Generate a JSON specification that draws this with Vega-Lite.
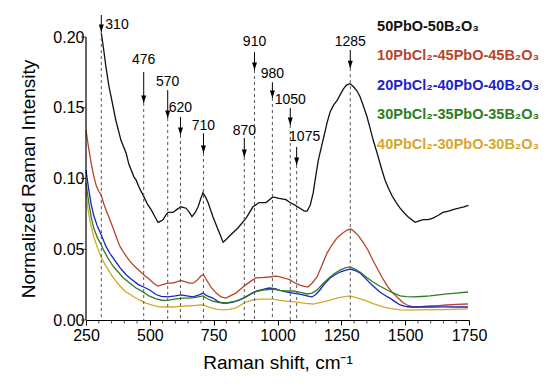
{
  "$schema": "https://vega.github.io/schema/vega-lite/v6.json",
  "width": 383,
  "height": 283,
  "autosize": {"type": "none"},
  "padding": {"left": 86, "top": 37, "right": 81, "bottom": 64},
  "background": "white",
  "config": {
    "view": {"stroke": null},
    "font": "Liberation Sans",
    "axis": {"domainColor": "#000", "tickColor": "#000", "labelColor": "#000", "titleColor": "#000", "labelFont": "Liberation Sans", "titleFont": "Liberation Sans", "grid": false}
  },
  "datasets": {
    "spectra": [
      {"s":"A","x":310,"y":0.203},{"s":"A","x":320,"y":0.19},{"s":"A","x":328,"y":0.179},{"s":"A","x":340,"y":0.165},{"s":"A","x":348,"y":0.158},{"s":"A","x":367,"y":0.141},{"s":"A","x":387,"y":0.127},{"s":"A","x":407,"y":0.118},{"s":"A","x":418,"y":0.11},{"s":"A","x":438,"y":0.101},{"s":"A","x":446,"y":0.099},{"s":"A","x":460,"y":0.093},{"s":"A","x":477,"y":0.087},{"s":"A","x":490,"y":0.082},{"s":"A","x":505,"y":0.078},{"s":"A","x":520,"y":0.073},{"s":"A","x":532,"y":0.069},{"s":"A","x":545,"y":0.07},{"s":"A","x":552,"y":0.071},{"s":"A","x":562,"y":0.074},{"s":"A","x":571,"y":0.076},{"s":"A","x":591,"y":0.076},{"s":"A","x":605,"y":0.078},{"s":"A","x":622,"y":0.08},{"s":"A","x":642,"y":0.079},{"s":"A","x":655,"y":0.076},{"s":"A","x":665,"y":0.073},{"s":"A","x":678,"y":0.076},{"s":"A","x":689,"y":0.08},{"s":"A","x":700,"y":0.086},{"s":"A","x":708,"y":0.09},{"s":"A","x":718,"y":0.087},{"s":"A","x":728,"y":0.083},{"s":"A","x":747,"y":0.073},{"s":"A","x":767,"y":0.064},{"s":"A","x":787,"y":0.055},{"s":"A","x":800,"y":0.057},{"s":"A","x":810,"y":0.059},{"s":"A","x":845,"y":0.065},{"s":"A","x":877,"y":0.072},{"s":"A","x":904,"y":0.08},{"s":"A","x":928,"y":0.083},{"s":"A","x":955,"y":0.083},{"s":"A","x":982,"y":0.087},{"s":"A","x":1006,"y":0.086},{"s":"A","x":1033,"y":0.085},{"s":"A","x":1049,"y":0.083},{"s":"A","x":1070,"y":0.081},{"s":"A","x":1088,"y":0.079},{"s":"A","x":1105,"y":0.077},{"s":"A","x":1116,"y":0.077},{"s":"A","x":1128,"y":0.081},{"s":"A","x":1140,"y":0.09},{"s":"A","x":1150,"y":0.102},{"s":"A","x":1160,"y":0.113},{"s":"A","x":1178,"y":0.127},{"s":"A","x":1195,"y":0.14},{"s":"A","x":1206,"y":0.147},{"s":"A","x":1220,"y":0.152},{"s":"A","x":1233,"y":0.155},{"s":"A","x":1257,"y":0.163},{"s":"A","x":1270,"y":0.166},{"s":"A","x":1284,"y":0.167},{"s":"A","x":1297,"y":0.165},{"s":"A","x":1311,"y":0.162},{"s":"A","x":1323,"y":0.158},{"s":"A","x":1335,"y":0.152},{"s":"A","x":1350,"y":0.144},{"s":"A","x":1362,"y":0.136},{"s":"A","x":1375,"y":0.127},{"s":"A","x":1390,"y":0.118},{"s":"A","x":1409,"y":0.106},{"s":"A","x":1421,"y":0.099},{"s":"A","x":1435,"y":0.093},{"s":"A","x":1448,"y":0.088},{"s":"A","x":1465,"y":0.083},{"s":"A","x":1480,"y":0.079},{"s":"A","x":1495,"y":0.076},{"s":"A","x":1511,"y":0.073},{"s":"A","x":1525,"y":0.071},{"s":"A","x":1539,"y":0.069},{"s":"A","x":1555,"y":0.07},{"s":"A","x":1570,"y":0.071},{"s":"A","x":1590,"y":0.071},{"s":"A","x":1609,"y":0.072},{"s":"A","x":1630,"y":0.074},{"s":"A","x":1648,"y":0.076},{"s":"A","x":1670,"y":0.077},{"s":"A","x":1687,"y":0.078},{"s":"A","x":1710,"y":0.079},{"s":"A","x":1730,"y":0.08},{"s":"A","x":1748,"y":0.081},

      {"s":"B","x":250,"y":0.134},{"s":"B","x":260,"y":0.122},{"s":"B","x":270,"y":0.111},{"s":"B","x":280,"y":0.102},{"s":"B","x":290,"y":0.095},{"s":"B","x":300,"y":0.091},{"s":"B","x":310,"y":0.088},{"s":"B","x":320,"y":0.082},{"s":"B","x":330,"y":0.077},{"s":"B","x":344,"y":0.0707},{"s":"B","x":356,"y":0.065},{"s":"B","x":370,"y":0.058},{"s":"B","x":383,"y":0.052},{"s":"B","x":400,"y":0.047},{"s":"B","x":420,"y":0.042},{"s":"B","x":440,"y":0.038},{"s":"B","x":458,"y":0.035},{"s":"B","x":476,"y":0.032},{"s":"B","x":497,"y":0.029},{"s":"B","x":515,"y":0.026},{"s":"B","x":532,"y":0.024},{"s":"B","x":550,"y":0.025},{"s":"B","x":571,"y":0.026},{"s":"B","x":590,"y":0.026},{"s":"B","x":605,"y":0.027},{"s":"B","x":622,"y":0.028},{"s":"B","x":640,"y":0.027},{"s":"B","x":655,"y":0.026},{"s":"B","x":669,"y":0.026},{"s":"B","x":685,"y":0.028},{"s":"B","x":700,"y":0.031},{"s":"B","x":710,"y":0.032},{"s":"B","x":720,"y":0.029},{"s":"B","x":740,"y":0.023},{"s":"B","x":760,"y":0.019},{"s":"B","x":779,"y":0.0163},{"s":"B","x":798,"y":0.0155},{"s":"B","x":815,"y":0.017},{"s":"B","x":837,"y":0.019},{"s":"B","x":857,"y":0.022},{"s":"B","x":877,"y":0.025},{"s":"B","x":900,"y":0.028},{"s":"B","x":916,"y":0.0297},{"s":"B","x":940,"y":0.03},{"s":"B","x":967,"y":0.0304},{"s":"B","x":994,"y":0.031},{"s":"B","x":1010,"y":0.0304},{"s":"B","x":1030,"y":0.0295},{"s":"B","x":1049,"y":0.0283},{"s":"B","x":1070,"y":0.026},{"s":"B","x":1088,"y":0.0247},{"s":"B","x":1105,"y":0.0238},{"s":"B","x":1119,"y":0.0233},{"s":"B","x":1135,"y":0.026},{"s":"B","x":1155,"y":0.0304},{"s":"B","x":1175,"y":0.039},{"s":"B","x":1194,"y":0.0473},{"s":"B","x":1213,"y":0.053},{"s":"B","x":1233,"y":0.058},{"s":"B","x":1252,"y":0.061},{"s":"B","x":1272,"y":0.0636},{"s":"B","x":1288,"y":0.0643},{"s":"B","x":1300,"y":0.0625},{"s":"B","x":1315,"y":0.06},{"s":"B","x":1335,"y":0.055},{"s":"B","x":1354,"y":0.0495},{"s":"B","x":1374,"y":0.042},{"s":"B","x":1394,"y":0.0353},{"s":"B","x":1413,"y":0.029},{"s":"B","x":1433,"y":0.0233},{"s":"B","x":1452,"y":0.019},{"s":"B","x":1472,"y":0.0155},{"s":"B","x":1490,"y":0.0125},{"s":"B","x":1507,"y":0.0106},{"s":"B","x":1531,"y":0.0092},{"s":"B","x":1560,"y":0.0095},{"s":"B","x":1597,"y":0.0099},{"s":"B","x":1630,"y":0.0102},{"s":"B","x":1664,"y":0.0106},{"s":"B","x":1700,"y":0.011},{"s":"B","x":1746,"y":0.0113},

      {"s":"C","x":250,"y":0.106},{"s":"C","x":260,"y":0.093},{"s":"C","x":270,"y":0.082},{"s":"C","x":280,"y":0.074},{"s":"C","x":295,"y":0.066},{"s":"C","x":310,"y":0.06},{"s":"C","x":328,"y":0.052},{"s":"C","x":344,"y":0.047},{"s":"C","x":367,"y":0.041},{"s":"C","x":383,"y":0.037},{"s":"C","x":407,"y":0.032},{"s":"C","x":434,"y":0.028},{"s":"C","x":455,"y":0.025},{"s":"C","x":476,"y":0.0233},{"s":"C","x":501,"y":0.021},{"s":"C","x":524,"y":0.018},{"s":"C","x":545,"y":0.0167},{"s":"C","x":571,"y":0.0163},{"s":"C","x":600,"y":0.017},{"s":"C","x":622,"y":0.0177},{"s":"C","x":645,"y":0.017},{"s":"C","x":669,"y":0.0163},{"s":"C","x":690,"y":0.0175},{"s":"C","x":708,"y":0.019},{"s":"C","x":725,"y":0.017},{"s":"C","x":747,"y":0.0155},{"s":"C","x":767,"y":0.013},{"s":"C","x":787,"y":0.012},{"s":"C","x":805,"y":0.012},{"s":"C","x":826,"y":0.0127},{"s":"C","x":850,"y":0.014},{"s":"C","x":877,"y":0.0163},{"s":"C","x":900,"y":0.019},{"s":"C","x":916,"y":0.0205},{"s":"C","x":940,"y":0.0215},{"s":"C","x":967,"y":0.0226},{"s":"C","x":990,"y":0.0222},{"s":"C","x":1010,"y":0.021},{"s":"C","x":1033,"y":0.0198},{"s":"C","x":1061,"y":0.019},{"s":"C","x":1080,"y":0.0185},{"s":"C","x":1100,"y":0.0177},{"s":"C","x":1120,"y":0.0168},{"s":"C","x":1135,"y":0.0163},{"s":"C","x":1150,"y":0.018},{"s":"C","x":1166,"y":0.0212},{"s":"C","x":1186,"y":0.026},{"s":"C","x":1206,"y":0.0297},{"s":"C","x":1225,"y":0.032},{"s":"C","x":1245,"y":0.0339},{"s":"C","x":1265,"y":0.035},{"s":"C","x":1284,"y":0.036},{"s":"C","x":1303,"y":0.035},{"s":"C","x":1323,"y":0.0332},{"s":"C","x":1342,"y":0.03},{"s":"C","x":1362,"y":0.0261},{"s":"C","x":1381,"y":0.023},{"s":"C","x":1401,"y":0.0198},{"s":"C","x":1420,"y":0.0175},{"s":"C","x":1440,"y":0.0155},{"s":"C","x":1460,"y":0.013},{"s":"C","x":1480,"y":0.0106},{"s":"C","x":1500,"y":0.0097},{"s":"C","x":1519,"y":0.0092},{"s":"C","x":1560,"y":0.0092},{"s":"C","x":1600,"y":0.0092},{"s":"C","x":1650,"y":0.0093},{"s":"C","x":1700,"y":0.0092},{"s":"C","x":1746,"y":0.0092},

      {"s":"D","x":250,"y":0.097},{"s":"D","x":260,"y":0.084},{"s":"D","x":270,"y":0.073},{"s":"D","x":280,"y":0.065},{"s":"D","x":295,"y":0.058},{"s":"D","x":310,"y":0.053},{"s":"D","x":320,"y":0.049},{"s":"D","x":332,"y":0.045},{"s":"D","x":356,"y":0.038},{"s":"D","x":371,"y":0.035},{"s":"D","x":395,"y":0.03},{"s":"D","x":422,"y":0.026},{"s":"D","x":446,"y":0.0226},{"s":"D","x":476,"y":0.0195},{"s":"D","x":497,"y":0.017},{"s":"D","x":525,"y":0.015},{"s":"D","x":552,"y":0.0138},{"s":"D","x":575,"y":0.014},{"s":"D","x":602,"y":0.015},{"s":"D","x":630,"y":0.0155},{"s":"D","x":653,"y":0.0155},{"s":"D","x":680,"y":0.016},{"s":"D","x":708,"y":0.017},{"s":"D","x":725,"y":0.015},{"s":"D","x":747,"y":0.0134},{"s":"D","x":767,"y":0.0125},{"s":"D","x":787,"y":0.012},{"s":"D","x":810,"y":0.0125},{"s":"D","x":837,"y":0.0134},{"s":"D","x":860,"y":0.015},{"s":"D","x":888,"y":0.0177},{"s":"D","x":916,"y":0.02},{"s":"D","x":943,"y":0.0212},{"s":"D","x":982,"y":0.0219},{"s":"D","x":1010,"y":0.021},{"s":"D","x":1033,"y":0.0205},{"s":"D","x":1061,"y":0.0205},{"s":"D","x":1090,"y":0.0195},{"s":"D","x":1116,"y":0.0184},{"s":"D","x":1135,"y":0.019},{"s":"D","x":1155,"y":0.0212},{"s":"D","x":1180,"y":0.026},{"s":"D","x":1206,"y":0.0304},{"s":"D","x":1225,"y":0.033},{"s":"D","x":1245,"y":0.0353},{"s":"D","x":1265,"y":0.0368},{"s":"D","x":1284,"y":0.0375},{"s":"D","x":1303,"y":0.036},{"s":"D","x":1323,"y":0.0339},{"s":"D","x":1350,"y":0.03},{"s":"D","x":1374,"y":0.0269},{"s":"D","x":1400,"y":0.024},{"s":"D","x":1429,"y":0.0212},{"s":"D","x":1455,"y":0.019},{"s":"D","x":1480,"y":0.017},{"s":"D","x":1505,"y":0.0165},{"s":"D","x":1531,"y":0.0163},{"s":"D","x":1565,"y":0.0166},{"s":"D","x":1597,"y":0.017},{"s":"D","x":1630,"y":0.0177},{"s":"D","x":1664,"y":0.0184},{"s":"D","x":1700,"y":0.019},{"s":"D","x":1746,"y":0.0198},

      {"s":"E","x":250,"y":0.091},{"s":"E","x":258,"y":0.078},{"s":"E","x":268,"y":0.068},{"s":"E","x":280,"y":0.059},{"s":"E","x":295,"y":0.051},{"s":"E","x":310,"y":0.044},{"s":"E","x":325,"y":0.039},{"s":"E","x":344,"y":0.0335},{"s":"E","x":360,"y":0.029},{"s":"E","x":383,"y":0.024},{"s":"E","x":405,"y":0.02},{"s":"E","x":434,"y":0.0168},{"s":"E","x":460,"y":0.014},{"s":"E","x":485,"y":0.012},{"s":"E","x":510,"y":0.0105},{"s":"E","x":536,"y":0.0093},{"s":"E","x":567,"y":0.0092},{"s":"E","x":591,"y":0.0092},{"s":"E","x":620,"y":0.0096},{"s":"E","x":642,"y":0.0099},{"s":"E","x":670,"y":0.0102},{"s":"E","x":700,"y":0.0106},{"s":"E","x":712,"y":0.0105},{"s":"E","x":725,"y":0.0095},{"s":"E","x":740,"y":0.0085},{"s":"E","x":765,"y":0.0075},{"s":"E","x":787,"y":0.0071},{"s":"E","x":810,"y":0.0075},{"s":"E","x":837,"y":0.0085},{"s":"E","x":860,"y":0.011},{"s":"E","x":877,"y":0.0127},{"s":"E","x":900,"y":0.014},{"s":"E","x":928,"y":0.0148},{"s":"E","x":955,"y":0.0148},{"s":"E","x":982,"y":0.0148},{"s":"E","x":1010,"y":0.0138},{"s":"E","x":1033,"y":0.0134},{"s":"E","x":1076,"y":0.0127},{"s":"E","x":1110,"y":0.0118},{"s":"E","x":1139,"y":0.0113},{"s":"E","x":1170,"y":0.0125},{"s":"E","x":1206,"y":0.0141},{"s":"E","x":1245,"y":0.016},{"s":"E","x":1284,"y":0.017},{"s":"E","x":1315,"y":0.0155},{"s":"E","x":1350,"y":0.0134},{"s":"E","x":1380,"y":0.0112},{"s":"E","x":1413,"y":0.0092},{"s":"E","x":1445,"y":0.008},{"s":"E","x":1480,"y":0.0071},{"s":"E","x":1520,"y":0.007},{"s":"E","x":1558,"y":0.0071},{"s":"E","x":1650,"y":0.0074},{"s":"E","x":1746,"y":0.0078}
    ],
    "peaks": [
      {"pos":310,"label":"310","ly":0.2085,"top":0.2155,"tip":0.2035},
      {"pos":476,"label":"476","ly":0.1837,"top":0.1753,"tip":0.1534},
      {"pos":570,"label":"570","ly":0.168,"top":0.1625,"tip":0.1428},
      {"pos":620,"label":"620","ly":0.1498,"top":0.1435,"tip":0.1307},
      {"pos":710,"label":"710","ly":0.137,"top":0.132,"tip":0.118},
      {"pos":870,"label":"870","ly":0.1336,"top":0.1286,"tip":0.1152},
      {"pos":910,"label":"910","ly":0.1965,"top":0.1894,"tip":0.1767},
      {"pos":980,"label":"980","ly":0.1739,"top":0.168,"tip":0.1569},
      {"pos":1050,"label":"1050","ly":0.1555,"top":0.1498,"tip":0.1378},
      {"pos":1075,"label":"1075","ly":0.1293,"top":0.1223,"tip":0.1095},
      {"pos":1285,"label":"1285","ly":0.1965,"top":0.1908,"tip":0.178}
    ],
    "minor": [
      {"t":300},{"t":350},{"t":400},{"t":450},{"t":550},{"t":600},{"t":650},{"t":700},{"t":800},{"t":850},{"t":900},{"t":950},{"t":1050},{"t":1100},{"t":1150},{"t":1200},{"t":1300},{"t":1350},{"t":1400},{"t":1450},{"t":1550},{"t":1600},{"t":1650},{"t":1700}
    ],
    "yticks": [{"v":0},{"v":0.05},{"v":0.1},{"v":0.15},{"v":0.2}],
    "names": [
      {"s":"A","label":"50PbO-50B₂O₃","ly":0.2044},
      {"s":"B","label":"10PbCl₂-45PbO-45B₂O₃","ly":0.1837},
      {"s":"C","label":"20PbCl₂-40PbO-40B₂O₃","ly":0.1625},
      {"s":"D","label":"30PbCl₂-35PbO-35B₂O₃","ly":0.142},
      {"s":"E","label":"40PbCl₂-30PbO-30B₂O₃","ly":0.1208}
    ]
  },
  "resolve": {"axis": {"x": "independent", "y": "independent"}},
  "layer": [
    {
      "data": {"name": "spectra"},
      "mark": {"type": "line", "strokeWidth": 1.3},
      "encoding": {
        "x": {"field": "x", "type": "quantitative", "scale": {"domain": [250, 1750], "nice": false, "zero": false},
              "axis": {"title": "Raman shift, cm⁻¹", "values": [250, 500, 750, 1000, 1250, 1500, 1750], "format": "d", "labelFontSize": 16, "tickSize": 5, "titleFontSize": 19, "titleFontWeight": "normal", "titlePadding": 10, "labelPadding": 2, "labelFlush": false}},
        "y": {"field": "y", "type": "quantitative", "scale": {"domain": [0, 0.2], "nice": false},
              "axis": {"title": "Normalized Raman Intensity", "values": [0, 0.05, 0.1, 0.15, 0.2], "format": ".2f", "labelFontSize": 16, "tickSize": 5, "titleFontSize": 19, "titleFontWeight": "normal", "titlePadding": 14, "labelPadding": 2, "domain": false, "ticks": false}},
        "color": {"field": "s", "type": "nominal", "legend": null,
                  "scale": {"domain": ["A", "B", "C", "D", "E"], "range": ["#111111", "#b5452b", "#1f1fcc", "#2e7d22", "#d4a82a"]}},
        "detail": {"field": "s"}
      }
    },
    {
      "data": {"values": [{}]},
      "mark": {"type": "rule", "color": "#000000", "strokeWidth": 1.2},
      "encoding": {
        "x": {"datum": 250, "type": "quantitative", "axis": null},
        "y": {"datum": 0, "type": "quantitative", "axis": null},
        "y2": {"datum": 0.2}
      }
    },
    {
      "data": {"name": "yticks"},
      "mark": {"type": "tick", "orient": "horizontal", "size": 5, "thickness": 1, "color": "#000000", "xOffset": -2.5},
      "encoding": {
        "x": {"datum": 250, "type": "quantitative", "axis": null},
        "y": {"field": "v", "type": "quantitative", "axis": null}
      }
    },
    {
      "data": {"name": "minor"},
      "mark": {"type": "tick", "orient": "vertical", "size": 3, "thickness": 1, "color": "#000000", "yOffset": 2},
      "encoding": {
        "x": {"field": "t", "type": "quantitative", "axis": null},
        "y": {"datum": 0, "type": "quantitative", "axis": null}
      }
    },
    {
      "data": {"name": "peaks"},
      "mark": {"type": "rule", "color": "#555555", "strokeWidth": 1, "strokeDash": [3, 3]},
      "encoding": {
        "x": {"field": "pos", "type": "quantitative", "axis": null},
        "y": {"field": "tip", "type": "quantitative", "axis": null},
        "y2": {"datum": 0}
      }
    },
    {
      "data": {"name": "peaks"},
      "mark": {"type": "rule", "color": "#000000", "strokeWidth": 1},
      "encoding": {
        "x": {"field": "pos", "type": "quantitative", "axis": null},
        "y": {"field": "top", "type": "quantitative", "axis": null},
        "y2": {"field": "tip"}
      }
    },
    {
      "data": {"name": "peaks"},
      "mark": {"type": "point", "shape": "M-1,-3L1,-3L0,0Z", "size": 25, "filled": true, "color": "#000000", "opacity": 1},
      "encoding": {
        "x": {"field": "pos", "type": "quantitative", "axis": null},
        "y": {"field": "tip", "type": "quantitative", "axis": null}
      }
    },
    {
      "data": {"name": "peaks"},
      "transform": [{"filter": "datum.pos != 310 && datum.pos != 1075"}],
      "mark": {"type": "text", "fontSize": 14, "baseline": "middle", "align": "center", "color": "#000000"},
      "encoding": {
        "x": {"field": "pos", "type": "quantitative", "axis": null},
        "y": {"field": "ly", "type": "quantitative", "axis": null},
        "text": {"field": "label"}
      }
    },
    {
      "data": {"name": "peaks"},
      "transform": [{"filter": "datum.pos == 310"}],
      "mark": {"type": "text", "fontSize": 14, "baseline": "middle", "align": "left", "dx": 4, "color": "#000000"},
      "encoding": {
        "x": {"field": "pos", "type": "quantitative", "axis": null},
        "y": {"field": "ly", "type": "quantitative", "axis": null},
        "text": {"field": "label"}
      }
    },
    {
      "data": {"name": "peaks"},
      "transform": [{"filter": "datum.pos == 1075"}],
      "mark": {"type": "text", "fontSize": 14, "baseline": "middle", "align": "center", "dx": 8, "color": "#000000"},
      "encoding": {
        "x": {"field": "pos", "type": "quantitative", "axis": null},
        "y": {"field": "ly", "type": "quantitative", "axis": null},
        "text": {"field": "label"}
      }
    },
    {
      "data": {"name": "names"},
      "mark": {"type": "text", "fontSize": 14.5, "fontWeight": "bold", "baseline": "alphabetic", "align": "left"},
      "encoding": {
        "x": {"datum": 1390, "type": "quantitative", "axis": null},
        "y": {"field": "ly", "type": "quantitative", "axis": null},
        "text": {"field": "label"},
        "color": {"field": "s", "type": "nominal", "legend": null}
      }
    }
  ]
}
